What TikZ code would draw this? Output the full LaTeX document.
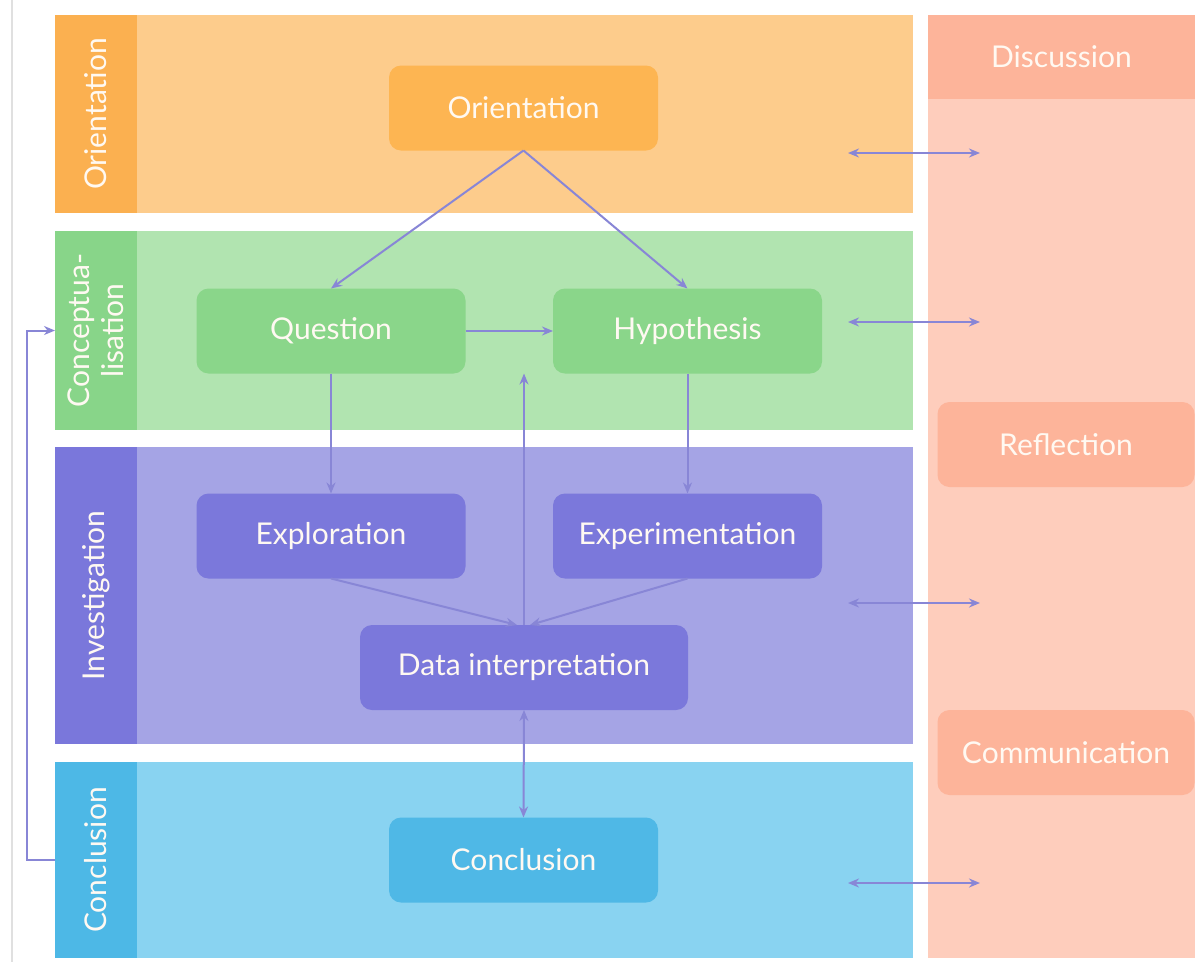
\documentclass[tikz,border=0pt]{standalone}
\usepackage{fontspec}
\setmainfont{Lato}
\usetikzlibrary{arrows.meta}
\definecolor{oriD}{HTML}{FBB050}
\definecolor{oriL}{HTML}{FDCC8C}
\definecolor{oriN}{HTML}{FDB552}
\definecolor{greD}{HTML}{88D589}
\definecolor{greL}{HTML}{B1E4B0}
\definecolor{greN}{HTML}{8AD68A}
\definecolor{purD}{HTML}{7A77DB}
\definecolor{purL}{HTML}{A5A4E5}
\definecolor{purN}{HTML}{7B78DB}
\definecolor{bluD}{HTML}{4DB8E6}
\definecolor{bluL}{HTML}{89D3F1}
\definecolor{bluN}{HTML}{4FB8E6}
\definecolor{salD}{HTML}{FDB49A}
\definecolor{salL}{HTML}{FECDBC}
\definecolor{arrC}{HTML}{8886D6}
\definecolor{txtC}{HTML}{FFF9F2}
\tikzset{
  stripbox/.style={inner sep=0pt, outer sep=0pt, minimum width=82pt, anchor=north west},
  bandbox/.style={inner sep=0pt, outer sep=0pt, minimum width=776pt, anchor=north west},
  sidetext/.style={rotate=90, text=txtC, font=\fontsize{30}{34}\selectfont, align=center},
  stepnode/.style={rounded corners=12pt, inner sep=0pt, outer sep=0pt, minimum width=269pt, minimum height=85pt, text=txtC, font=\fontsize{30}{34}\selectfont},
  arr/.style={draw=arrC, line width=2pt, -{Stealth[length=11pt,width=9pt]}},
  darr/.style={draw=arrC, line width=2pt, {Stealth[length=11pt,width=9pt]}-{Stealth[length=11pt,width=9pt]}}
}
\begin{document}
\begin{tikzpicture}[x=1pt,y=-1pt]
\useasboundingbox (0,0) rectangle (1195,962);
\fill[white] (0,0) rectangle (1195,962);
\draw[black!12, line width=2pt] (12,0) -- (12,962);
% bands
\node[bandbox, fill=oriL, minimum height=198pt] (bOri) at (137,15) {};
\node[stripbox, fill=oriD, minimum height=198pt] (sOri) at (55,15) {};
\node[sidetext] at (sOri) {Orientation};
\node[bandbox, fill=greL, minimum height=199pt] (bCpt) at (137,231) {};
\node[stripbox, fill=greD, minimum height=199pt] (sCpt) at (55,231) {};
\node[sidetext] at (sCpt) {Conceptua-\\lisation};
\node[bandbox, fill=purL, minimum height=297pt] (bInv) at (137,447) {};
\node[stripbox, fill=purD, minimum height=297pt] (sInv) at (55,447) {};
\node[sidetext] at (sInv) {Investigation};
\node[bandbox, fill=bluL, minimum height=196pt] (bCon) at (137,762) {};
\node[stripbox, fill=bluD, minimum height=196pt] (sCon) at (55,762) {};
\node[sidetext] at (sCon) {Conclusion};
% right column
\node[inner sep=0pt, outer sep=0pt, anchor=north west, fill=salL, minimum width=267pt, minimum height=943pt] (rCol) at (928,15) {};
\node[inner sep=0pt, outer sep=0pt, anchor=north west, fill=salD, minimum width=267pt, minimum height=84pt, text=txtC, font=\fontsize{30}{34}\selectfont] (disc) at (928,15) {Discussion};
\node[stepnode, fill=salD, minimum width=257pt] (refl) at (1066,444.5) {Reflection};
\node[stepnode, fill=salD, minimum width=257pt] (comm) at (1066,752.5) {Communication};
% step nodes
\node[stepnode, fill=oriN] (ori) at (523.5,108) {Orientation};
\node[stepnode, fill=greN] (q) at (331,331) {Question};
\node[stepnode, fill=greN] (h) at (687.5,331) {Hypothesis};
\node[stepnode, fill=purN] (ex) at (331,536) {Exploration};
\node[stepnode, fill=purN] (ep) at (687.5,536) {Experimentation};
\node[stepnode, fill=purN, minimum width=328pt] (di) at (524,667.5) {Data interpretation};
\node[stepnode, fill=bluN] (con) at (523.5,860) {Conclusion};
% connectors
\draw[arr] (ori.south) -- (q.north);
\draw[arr] (ori.south) -- (h.north);
\draw[arr] (q.east) -- (h.west);
\draw[arr] (q.south) -- (ex.north);
\draw[arr] (h.south) -- (ep.north);
\draw[arr] (ex.south) -- ([xshift=-7pt]di.north);
\draw[arr] (ep.south) -- ([xshift=6pt]di.north);
\draw[arr] (di.north) -- (di.north |- h.south);
\draw[darr] (di.south) -- (con.north);
\draw[arr] (sCon.west) -- ++(-28,0) |- (sCpt.west);
% links to discussion column
\coordinate (l1) at (848,153); \coordinate (r1) at (980,153);
\coordinate (l2) at (848,322); \coordinate (r2) at (980,322);
\coordinate (l3) at (848,603); \coordinate (r3) at (980,603);
\coordinate (l4) at (848,883); \coordinate (r4) at (980,883);
\draw[darr] (l1) -- (r1);
\draw[darr] (l2) -- (r2);
\draw[darr] (l3) -- (r3);
\draw[darr] (l4) -- (r4);
\end{tikzpicture}
\end{document}
